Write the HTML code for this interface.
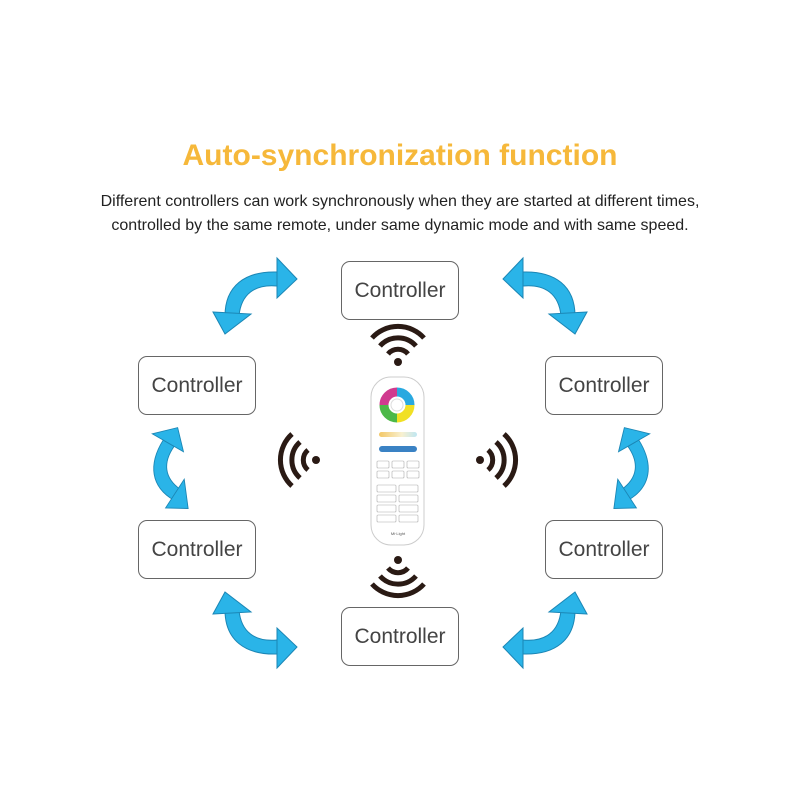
<!DOCTYPE html>
<html><head><style>
body{margin:0;width:800px;height:800px;background:#fff;position:relative;overflow:hidden;font-family:"Liberation Sans",sans-serif}
.t{position:absolute;left:0;width:800px;text-align:center}
.b{position:absolute;width:118px;height:59px;border:1.3px solid #666;border-radius:9px;box-sizing:border-box;text-align:center;line-height:57px;font-size:21px;color:#444}
</style></head><body>
<div class="t" style="top:139px;font-size:30px;font-weight:bold;color:#f6b83a">Auto-synchronization function</div>
<div class="t" style="top:190px;font-size:16px;color:#222;line-height:24px">Different controllers can work synchronously when they are started at different times,<br>controlled by the same remote, under same dynamic mode and with same speed.</div>
<div class="b" style="left:341px;top:261px">Controller</div>
<div class="b" style="left:138px;top:356px">Controller</div>
<div class="b" style="left:545px;top:356px">Controller</div>
<div class="b" style="left:138px;top:520px">Controller</div>
<div class="b" style="left:545px;top:520px">Controller</div>
<div class="b" style="left:341px;top:607px">Controller</div>
<svg width="800" height="800" style="position:absolute;left:0;top:0">
<defs>
<g id="ar" stroke="#1b86b5" stroke-width="1" fill="#2ab4e8">
<path d="M-30,20 C-30,-10 -10,-25 22,-24 L22,-10 C0,-12 -14,-2 -16,20 Z"/>
<polygon points="22,-38 42,-17 22,2"/>
<polygon points="-42,16 -4,18 -30,38"/>
</g>
<g id="wf" fill="none" stroke="#2a1a14" stroke-width="5">
<path d="M-10,-8 A13,13 0 0 1 10,-8"/>
<path d="M-18,-16 A24,24 0 0 1 18,-16"/>
<path d="M-26,-24 A35,35 0 0 1 26,-24"/>
<circle cx="0" cy="0" r="4" fill="#2a1a14" stroke="none"/>
</g>
<linearGradient id="cw" x1="0" x2="1"><stop offset="0" stop-color="#f3c766"/><stop offset=".6" stop-color="#f8f0d0"/><stop offset="1" stop-color="#bfe6f2"/></linearGradient>
</defs>
<use href="#ar" transform="translate(255,296)"/>
<use href="#ar" transform="translate(545,296) scale(-1,1)"/>
<use href="#ar" transform="translate(255,630) scale(1,-1)"/>
<use href="#ar" transform="translate(545,630) rotate(180)"/>
<use href="#ar" transform="translate(172,468) rotate(-60) scale(0.9)"/>
<use href="#ar" transform="translate(630,468) scale(-1,1) rotate(-60) scale(0.9)"/>
<use href="#wf" transform="translate(398,362)"/>
<use href="#wf" transform="translate(398,560) rotate(180)"/>
<use href="#wf" transform="translate(316,460) rotate(-90)"/>
<use href="#wf" transform="translate(480,460) rotate(90)"/>
<rect x="371" y="377" width="53" height="168" rx="20" fill="#fff" stroke="#ccc"/>
<path d="M397,392 A13,13 0 0 1 410,405" fill="none" stroke="#29a9e0" stroke-width="9"/>
<path d="M410,405 A13,13 0 0 1 397,418" fill="none" stroke="#f1e024" stroke-width="9"/>
<path d="M397,418 A13,13 0 0 1 384,405" fill="none" stroke="#4cb848" stroke-width="9"/>
<path d="M384,405 A13,13 0 0 1 397,392" fill="none" stroke="#d03a8f" stroke-width="9"/>
<circle cx="397" cy="405" r="6" fill="#fff" stroke="#ddd"/>
<rect x="379" y="432" width="38" height="5" rx="2.5" fill="url(#cw)"/>
<rect x="379" y="446" width="38" height="6" rx="3" fill="#3a82c4"/>
<g fill="none" stroke="#aaa" stroke-width=".6">
<rect x="377" y="461" width="12" height="7" rx="1"/><rect x="392" y="461" width="12" height="7" rx="1"/><rect x="407" y="461" width="12" height="7" rx="1"/>
<rect x="377" y="471" width="12" height="7" rx="1"/><rect x="392" y="471" width="12" height="7" rx="1"/><rect x="407" y="471" width="12" height="7" rx="1"/>
<rect x="377" y="485" width="19" height="7" rx="1"/><rect x="399" y="485" width="19" height="7" rx="1"/>
<rect x="377" y="495" width="19" height="7" rx="1"/><rect x="399" y="495" width="19" height="7" rx="1"/>
<rect x="377" y="505" width="19" height="7" rx="1"/><rect x="399" y="505" width="19" height="7" rx="1"/>
<rect x="377" y="515" width="19" height="7" rx="1"/><rect x="399" y="515" width="19" height="7" rx="1"/>
</g>
<text x="398" y="535" font-size="4" text-anchor="middle" fill="#555" font-family="Liberation Sans">Mi·Light</text>
</svg>
</body></html>
